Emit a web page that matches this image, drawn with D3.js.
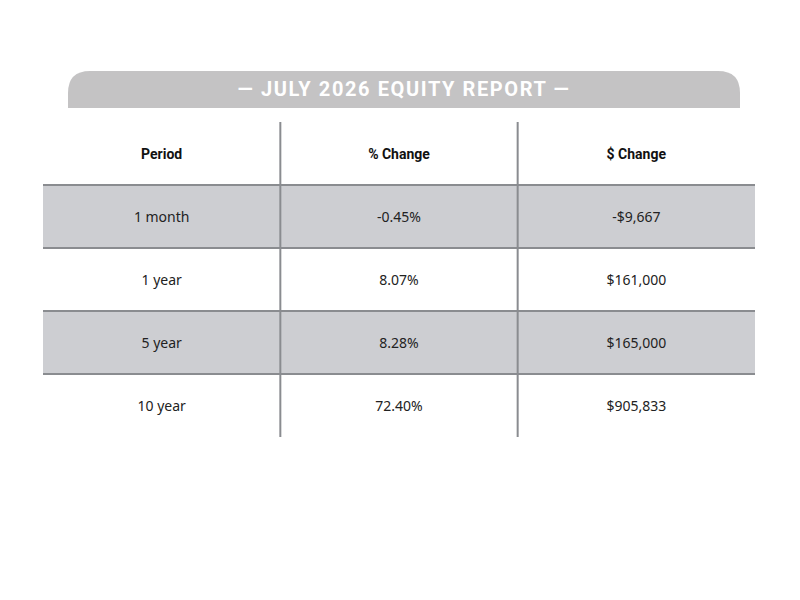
<!DOCTYPE html>
<html>
<head>
  <meta charset="utf-8">
  <title>Equity Report</title>
  <script src="https://d3js.org/d3.v7.min.js"></script>
  <style>
    body { margin: 0; background: #fff; }
  </style>
</head>
<body>
  <div id="chart"></div>
  <script>
    // table data
    var title = "— JULY 2026 EQUITY REPORT —";
    var headers = ["Period", "% Change", "$ Change"];
    var periods = ["1 month", "1 year", "5 year", "10 year"];
    var pctChange = ["-0.45%", "8.07%", "8.28%", "72.40%"];
    var dollarChange = ["-$9,667", "$161,000", "$165,000", "$905,833"];

    var width = 800, height = 600;
    var tableLeft = 43, tableRight = 755, tableTop = 122, tableBottom = 437;
    var lineColor = "#8a8c90";
    var shade = "#cdced2";

    var svg = d3.select("#chart")
      .append("svg")
      .attr("width", width)
      .attr("height", height);

    // title bar with rounded top corners
    var tx0 = 68, tx1 = 740, ty0 = 71, ty1 = 108, r = 22;
    svg.append("path")
      .attr("d", "M" + tx0 + "," + ty1 + " L" + tx0 + "," + (ty0 + r) +
        " Q" + tx0 + "," + ty0 + " " + (tx0 + r) + "," + ty0 +
        " L" + (tx1 - r) + "," + ty0 +
        " Q" + tx1 + "," + ty0 + " " + tx1 + "," + (ty0 + r) +
        " L" + tx1 + "," + ty1 + " Z")
      .attr("fill", "#c4c3c4");

    svg.append("text")
      .attr("x", (tx0 + tx1) / 2)
      .attr("y", (ty0 + ty1) / 2 + 1)
      .attr("text-anchor", "middle")
      .attr("dominant-baseline", "middle")
      .attr("fill", "#fff")
      .style("font-family", "Roboto, sans-serif")
      .style("font-weight", "bold")
      .style("font-size", "20px")
      .style("letter-spacing", "1.6px")
      .text(title);

    var rowKeys = ["header"].concat(periods);
    var yScale = d3.scaleBand()
      .domain(rowKeys)
      .range([tableTop, tableBottom]);

    var xScale = d3.scaleBand()
      .domain(headers)
      .range([tableLeft, tableRight]);

    var rows = periods.map(function (p, i) {
      return [p, pctChange[i], dollarChange[i]];
    });

    // shaded rows
    svg.selectAll(".shade")
      .data(periods.filter(function (d, i) { return i % 2 === 0; }))
      .join("rect")
      .attr("class", "shade")
      .attr("x", tableLeft)
      .attr("y", function (d) { return yScale(d); })
      .attr("width", tableRight - tableLeft)
      .attr("height", yScale.bandwidth())
      .attr("fill", shade);

    // horizontal lines
    svg.selectAll(".hline")
      .data(periods)
      .join("line")
      .attr("class", "hline")
      .attr("x1", tableLeft)
      .attr("x2", tableRight)
      .attr("y1", function (d) { return yScale(d); })
      .attr("y2", function (d) { return yScale(d); })
      .attr("stroke", lineColor)
      .attr("stroke-width", 2);

    // vertical lines
    svg.selectAll(".vline")
      .data(headers.slice(1))
      .join("line")
      .attr("class", "vline")
      .attr("x1", function (d) { return xScale(d); })
      .attr("x2", function (d) { return xScale(d); })
      .attr("y1", tableTop)
      .attr("y2", tableBottom)
      .attr("stroke", lineColor)
      .attr("stroke-width", 2);

    // header text
    svg.selectAll(".head")
      .data(headers)
      .join("text")
      .attr("class", "head")
      .attr("x", function (d) { return xScale(d) + xScale.bandwidth() / 2; })
      .attr("y", yScale("header") + yScale.bandwidth() / 2 + 2)
      .attr("text-anchor", "middle")
      .attr("dominant-baseline", "middle")
      .attr("fill", "#111")
      .style("font-family", "Roboto, sans-serif")
      .style("font-weight", "bold")
      .style("font-size", "14px")
      .text(function (d) { return d; });

    // cells
    rows.forEach(function (row, i) {
      svg.selectAll(".cell-" + i)
        .data(row)
        .join("text")
        .attr("class", "cell-" + i)
        .attr("x", function (d, j) { return xScale(headers[j]) + xScale.bandwidth() / 2; })
        .attr("y", yScale(periods[i]) + yScale.bandwidth() / 2 + 2)
        .attr("text-anchor", "middle")
        .attr("dominant-baseline", "middle")
        .attr("fill", "#222")
        .style("font-family", "'Noto Sans', sans-serif")
        .style("font-size", "14px")
        .text(function (d) { return d; });
    });
  </script>
</body>
</html>
